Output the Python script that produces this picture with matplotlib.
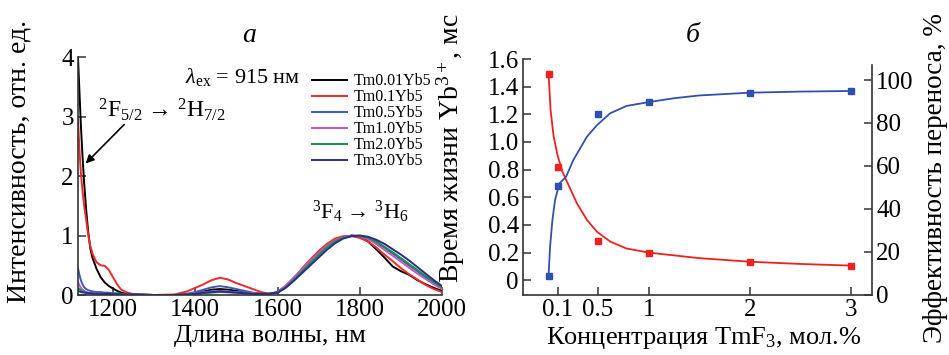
import numpy as np
import matplotlib.pyplot as plt

plt.rcParams['font.family'] = ['Liberation Serif', 'DejaVu Serif']
plt.rcParams['mathtext.fontset'] = 'custom'
plt.rcParams['mathtext.rm'] = 'Liberation Serif'
plt.rcParams['mathtext.it'] = 'Liberation Serif:italic'

# --- panel a: luminescence spectra ---
wl = [1115, 1118, 1122, 1126, 1130, 1135, 1140, 1145, 1150, 1160, 1170, 1180, 1190,
      1200, 1210, 1220, 1235, 1250, 1275, 1300, 1350, 1380, 1400, 1420, 1440, 1460,
      1480, 1500, 1520, 1540, 1560, 1580, 1600, 1620, 1640, 1660, 1680, 1700, 1720,
      1740, 1760, 1780, 1800, 1820, 1840, 1860, 1880, 1900, 1920, 1940, 1960, 1980, 2000]

tm001 = [4.0, 3.5, 2.85, 2.33, 1.88, 1.42, 1.05, 0.78, 0.63, 0.44, 0.3, 0.21, 0.15,
         0.11, 0.07, 0.04, 0.015, 0.005, 0.0, 0.0, 0.0, 0.01, 0.03, 0.06, 0.09, 0.1,
         0.09, 0.07, 0.05, 0.03, 0.02, 0.02, 0.05, 0.15, 0.28, 0.42, 0.56, 0.7, 0.82,
         0.91, 0.97, 1.0, 0.98, 0.9, 0.77, 0.63, 0.48, 0.4, 0.34, 0.25, 0.18, 0.12, 0.07]
tm01 = [2.95, 2.5, 2.05, 1.75, 1.5, 1.25, 1.0, 0.82, 0.7, 0.55, 0.5, 0.49, 0.42,
        0.3, 0.18, 0.09, 0.04, 0.015, 0.005, 0.0, 0.01, 0.06, 0.12, 0.18, 0.25, 0.29,
        0.26, 0.2, 0.15, 0.1, 0.05, 0.02, 0.04, 0.14, 0.28, 0.45, 0.6, 0.74, 0.86,
        0.95, 0.99, 0.99, 0.96, 0.9, 0.8, 0.68, 0.57, 0.45, 0.35, 0.26, 0.17, 0.1, 0.05]
tm05 = [0.45, 0.35, 0.25, 0.18, 0.13, 0.1, 0.08, 0.07, 0.06, 0.05, 0.05, 0.04, 0.04,
        0.03, 0.03, 0.02, 0.02, 0.01, 0.01, 0.0, 0.0, 0.02, 0.05, 0.09, 0.13, 0.15,
        0.13, 0.1, 0.07, 0.04, 0.02, 0.02, 0.05, 0.15, 0.28, 0.42, 0.56, 0.7, 0.82,
        0.91, 0.97, 1.0, 0.99, 0.95, 0.88, 0.8, 0.7, 0.6, 0.5, 0.4, 0.3, 0.21, 0.13]
tm10 = [0.22, 0.17, 0.12, 0.09, 0.07, 0.05, 0.04, 0.035, 0.03, 0.03, 0.025, 0.02, 0.02,
        0.02, 0.015, 0.01, 0.01, 0.01, 0.0, 0.0, 0.0, 0.01, 0.03, 0.05, 0.06, 0.07,
        0.06, 0.05, 0.04, 0.03, 0.02, 0.02, 0.05, 0.16, 0.3, 0.44, 0.58, 0.71, 0.83,
        0.92, 0.97, 1.0, 0.99, 0.94, 0.86, 0.76, 0.66, 0.56, 0.46, 0.36, 0.27, 0.18, 0.1]
tm20 = [0.12, 0.1, 0.08, 0.06, 0.05, 0.04, 0.03, 0.03, 0.025, 0.02, 0.02, 0.02, 0.015,
        0.015, 0.01, 0.01, 0.01, 0.005, 0.0, 0.0, 0.0, 0.01, 0.02, 0.03, 0.04, 0.05,
        0.045, 0.04, 0.03, 0.02, 0.02, 0.02, 0.04, 0.13, 0.26, 0.4, 0.54, 0.67, 0.8,
        0.9, 0.96, 0.99, 1.0, 0.96, 0.9, 0.81, 0.72, 0.62, 0.52, 0.42, 0.32, 0.22, 0.13]
tm30 = [0.07, 0.06, 0.05, 0.045, 0.04, 0.035, 0.03, 0.03, 0.025, 0.02, 0.02, 0.02, 0.02,
        0.015, 0.015, 0.01, 0.01, 0.01, 0.005, 0.0, 0.0, 0.01, 0.02, 0.04, 0.05, 0.06,
        0.05, 0.04, 0.03, 0.02, 0.02, 0.02, 0.04, 0.12, 0.24, 0.37, 0.5, 0.63, 0.76,
        0.87, 0.95, 0.99, 1.0, 0.98, 0.93, 0.86, 0.77, 0.68, 0.58, 0.47, 0.36, 0.25, 0.15]

spec_labels = ['Tm0.01Yb5', 'Tm0.1Yb5', 'Tm0.5Yb5', 'Tm1.0Yb5', 'Tm2.0Yb5', 'Tm3.0Yb5']
spec_colors = ['#000000', '#ee2a2a', '#3a5cb8', '#c457b4', '#15924a', '#2b2b8c']

# --- panel b: lifetime and transfer efficiency ---
conc = [0.01, 0.1, 0.5, 1, 2, 3]
lifetime = [1.49, 0.82, 0.285, 0.195, 0.13, 0.106]
efficiency = [8.8, 50.7, 84.0, 89.7, 94.1, 94.9]

fit_x = [0.01, 0.03, 0.06, 0.1, 0.15, 0.2, 0.29, 0.39, 0.49, 0.62, 0.78, 1.0,
         1.25, 1.5, 2.0, 2.5, 3.0]
lifetime_fit = [1.49, 1.23, 1.04, 0.9, 0.78, 0.7, 0.557, 0.436, 0.35, 0.28, 0.23, 0.2,
                0.18, 0.16, 0.134, 0.118, 0.106]
eff_fit_x = [0.01, 0.025, 0.048, 0.074, 0.117, 0.183, 0.255, 0.39, 0.49, 0.62, 0.78,
             1.0, 1.25, 1.5, 2.0, 2.5, 3.0]
eff_fit = [8.8, 22.3, 34.7, 44.0, 51.8, 54.9, 62.7, 73.6, 79.0, 84.5, 87.9, 89.7,
           91.5, 92.8, 94.1, 94.6, 94.9]

fig = plt.figure(figsize=(9.49, 3.55), dpi=100)
spine_c = '#333333'
tick_fs = 18
label_fs = 20
xlabel_fs = 19

ax = fig.add_axes([0.0822, 0.169, 0.3836, 0.670])
series = [tm001, tm01, tm05, tm10, tm20, tm30]
for vals, lab, col in zip(series, spec_labels, spec_colors):
    ax.plot(wl, vals, color=col, lw=1.4, label=lab)
ax.set_xlim(1115, 2000)
ax.set_ylim(0, 4)
ax.set_xticks([1200, 1400, 1600, 1800, 2000])
ax.set_yticks([0, 1, 2, 3, 4])
for s in ['top', 'right']:
    ax.spines[s].set_visible(False)
for s in ['left', 'bottom']:
    ax.spines[s].set_color(spine_c)
    ax.spines[s].set_linewidth(1.2)
ax.tick_params(direction='in', length=6, width=1.1, color=spine_c, labelsize=tick_fs, pad=3)
ax.set_xlabel('Длина волны, нм', fontsize=xlabel_fs)
ax.xaxis.set_label_coords(0.527, -0.128)
ax.set_ylabel('Интенсивность, отн. ед.', fontsize=label_fs)
ax.yaxis.set_label_coords(-0.128, 0.563)
ax.legend(loc='upper left', bbox_to_anchor=(0.62, 0.965), frameon=False, fontsize=11.5,
          handlelength=2.2, handletextpad=0.45, labelspacing=0.0, borderpad=0)
ax.text(1375, 3.66, r'$\lambda_{\rm ex}$ = 915 нм', fontsize=16, ha='left', va='center')
ax.text(1163, 3.12, r'$^2$F$_{5/2}$ → $^2$H$_{7/2}$', fontsize=17, ha='left', va='center')
ax.annotate('', xy=(1129, 2.18), xytext=(1232, 2.9),
            arrowprops=dict(arrowstyle='-|>', color='black', lw=1.2, mutation_scale=12))
ax.text(1685, 1.39, r'$^3$F$_4$ → $^3$H$_6$', fontsize=16, ha='left', va='center')

bx = fig.add_axes([0.5511, 0.1704, 0.3678, 0.6634])
bx.plot(fit_x, lifetime_fit, color='#ee2020', lw=1.3)
bx.plot(conc, lifetime, 's', color='#ee2020', ms=5)
bx.set_xlim(-0.243, 3.21)
bx.set_ylim(-0.103, 1.6)
bx.set_xticks([0.1, 0.5, 1, 2, 3])
bx.set_xticklabels(['0.1', '0.5', '1', '2', '3'])
bx.set_yticks([0, 0.2, 0.4, 0.6, 0.8, 1.0, 1.2, 1.4, 1.6])
bx.set_yticklabels(['0', '0.2', '0.4', '0.6', '0.8', '1.0', '1.2', '1.4', '1.6'])
bx.spines['top'].set_visible(False)
bx.spines['right'].set_visible(False)
for s in ['left', 'bottom']:
    bx.spines[s].set_color(spine_c)
    bx.spines[s].set_linewidth(1.2)
bx.tick_params(direction='in', length=6, width=1.1, color=spine_c, labelsize=tick_fs, pad=3)
bx.set_xlabel('Концентрация TmF$_3$, мол.%', fontsize=xlabel_fs)
bx.xaxis.set_label_coords(0.519, -0.13)
bx.set_ylabel('Время жизни Yb$^{3+}$, мс', fontsize=label_fs)
bx.yaxis.set_label_coords(-0.16, 0.622)

bx2 = bx.twinx()
bx2.plot(eff_fit_x, eff_fit, color='#3050b0', lw=1.3)
bx2.plot(conc, efficiency, 's', color='#3050b0', ms=5)
bx2.set_ylim(0, 109.8)
bx2.set_yticks([0, 20, 40, 60, 80, 100])
bx2.spines['top'].set_visible(False)
bx2.spines['left'].set_visible(False)
bx2.spines['bottom'].set_visible(False)
bx2.spines['right'].set_color(spine_c)
bx2.spines['right'].set_linewidth(1.2)
bx2.spines['right'].set_bounds(0, 107)
bx2.tick_params(direction='in', length=6, width=1.1, color=spine_c, labelsize=tick_fs, pad=3)
bx2.set_ylabel('Эффективность переноса, %', fontsize=19.5)
bx2.yaxis.set_label_coords(1.145, 0.495)

fig.text(0.263, 0.901, 'а', fontsize=20, style='italic', ha='center', va='center')
fig.text(0.730, 0.901, 'б', fontsize=20, style='italic', ha='center', va='center')

fig.savefig('out.png', dpi=100)
